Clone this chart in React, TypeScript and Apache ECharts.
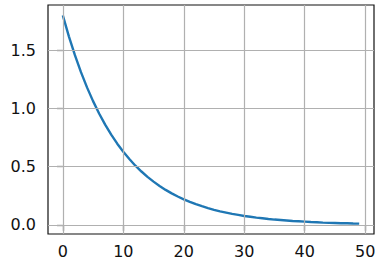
import React, { useEffect, useRef } from "react";
import * as echarts from "echarts";

const xValues: number[] = Array.from({ length: 50 }, (_, i) => i);
const yValues: number[] = [
  1.8, 1.62, 1.458, 1.312, 1.181, 1.063, 0.957, 0.861, 0.775, 0.697,
  0.628, 0.565, 0.508, 0.458, 0.412, 0.371, 0.334, 0.3, 0.27, 0.243,
  0.219, 0.197, 0.177, 0.16, 0.144, 0.129, 0.116, 0.105, 0.094, 0.085,
  0.076, 0.069, 0.062, 0.056, 0.05, 0.045, 0.041, 0.037, 0.033, 0.03,
  0.027, 0.024, 0.022, 0.019, 0.017, 0.016, 0.014, 0.013, 0.011, 0.01,
];
const xTicks: number[] = [0, 10, 20, 30, 40, 50];
const yTicks: number[] = [0, 0.5, 1.0, 1.5];

export default function App() {
  const ref = useRef<HTMLDivElement>(null);
  useEffect(() => {
    if (!ref.current) return;
    const chart = echarts.init(ref.current, null, { renderer: "svg" });
    const font = "DejaVu Sans";
    chart.setOption({
      animation: false,
      grid: {
        left: 48,
        top: 5,
        right: 8,
        bottom: 35,
        show: true,
        borderColor: "#111",
        borderWidth: 1.2,
        backgroundColor: "transparent",
      },
      xAxis: {
        type: "value",
        min: -2.45,
        max: 51.45,
        axisLine: { show: false },
        splitLine: { show: false },
        axisTick: {
          show: true,
          length: 6,
          customValues: xTicks,
          lineStyle: { color: "#111", width: 1.2 },
        },
        axisLabel: {
          customValues: xTicks,
          margin: 9,
          color: "#111",
          fontFamily: font,
          fontSize: 16,
          formatter: (v: number) => String(v),
        },
      },
      yAxis: {
        type: "value",
        min: -0.079,
        max: 1.889,
        axisLine: { show: false },
        splitLine: { show: false },
        axisTick: {
          show: true,
          length: 6,
          customValues: yTicks,
          lineStyle: { color: "#111", width: 1.2 },
        },
        axisLabel: {
          customValues: yTicks,
          margin: 12,
          color: "#111",
          fontFamily: font,
          fontSize: 16,
          formatter: (v: number) => v.toFixed(1),
        },
      },
      series: [
        {
          type: "line",
          data: [],
          z: 1,
          silent: true,
          markLine: {
            silent: true,
            symbol: "none",
            label: { show: false },
            lineStyle: { color: "#b0b0b0", width: 1.2, type: "solid" },
            data: [
              ...xTicks.map((v) => ({ xAxis: v })),
              ...yTicks.map((v) => ({ yAxis: v })),
            ],
          },
        },
        {
          type: "line",
          z: 3,
          data: xValues.map((x, i) => [x, yValues[i]]),
          showSymbol: false,
          symbol: "none",
          lineStyle: { color: "#1f77b4", width: 2.4 },
        },
      ],
    });
    return () => chart.dispose();
  }, []);
  return (
    <div
      ref={ref}
      style={{ position: "fixed", left: 0, top: 0, width: 382, height: 269, background: "#fff" }}
    />
  );
}
